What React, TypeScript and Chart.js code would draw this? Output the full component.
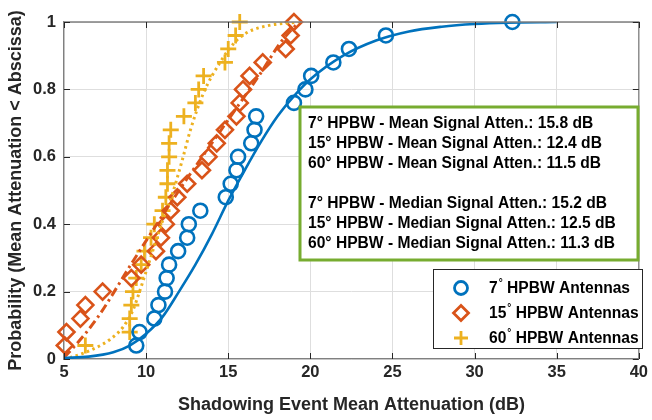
import React, { useEffect, useRef } from 'react';
import { Chart, registerables } from 'chart.js';

Chart.register(...registerables);

// ---------- data ----------
const probLevels = [0.04, 0.08, 0.12, 0.16, 0.2, 0.24, 0.28, 0.32, 0.36, 0.4, 0.44, 0.48, 0.52, 0.56, 0.6, 0.64, 0.68, 0.72, 0.76, 0.8, 0.84, 0.88, 0.92, 0.96, 1.0];

const atten7 = [9.4, 9.6, 10.5, 10.75, 11.15, 11.25, 11.4, 11.95, 12.5, 12.6, 13.3, 14.85, 15.15, 15.5, 15.6, 16.4, 16.6, 16.7, 19.0, 19.7, 20.05, 21.4, 22.35, 24.6, 32.3];
const atten15 = [5.05, 5.15, 6.0, 6.3, 7.35, 9.1, 9.7, 10.6, 10.9, 11.2, 11.5, 11.9, 12.5, 13.4, 13.8, 14.3, 14.8, 15.5, 15.7, 15.9, 16.3, 17.1, 18.5, 18.8, 19.0];
const atten60 = [6.3, 9.0, 9.0, 9.1, 9.2, 9.4, 9.7, 9.9, 10.3, 10.5, 11.0, 11.2, 11.3, 11.3, 11.4, 11.4, 11.5, 12.3, 13.0, 13.2, 13.5, 14.8, 15.0, 15.45, 15.7];

const fit7X = [5, 6.5, 8, 9, 10, 11, 12, 13, 14, 15, 16, 17, 18, 19, 20, 22, 24, 26, 28, 30, 32, 35];
const fit7P = [0.003, 0.007, 0.02, 0.04, 0.075, 0.125, 0.2, 0.28, 0.37, 0.47, 0.56, 0.645, 0.72, 0.78, 0.83, 0.9, 0.945, 0.972, 0.986, 0.994, 0.998, 1.0];

const fit15X = [5, 5.5, 7, 9.2, 12, 15, 17, 18.2, 19.3];
const fit15P = [0.005, 0.03, 0.12, 0.29, 0.5, 0.71, 0.85, 0.94, 1.0];

const fit60X = [5, 5.5, 6.8, 7.8, 8.6, 9.2, 9.6, 10.2, 11, 11.6, 12.2, 12.7, 13.5, 14.5, 15.4, 16.2, 17.5, 19.3];
const fit60P = [0.0, 0.006, 0.03, 0.058, 0.095, 0.145, 0.2, 0.29, 0.41, 0.49, 0.59, 0.68, 0.79, 0.88, 0.94, 0.97, 0.99, 1.0];

const xTicks = [5, 10, 15, 20, 25, 30, 35, 40];
const yTicks = [0, 0.2, 0.4, 0.6, 0.8, 1];

const beamwidths = ['7', '15', '60'];
const statLines = [
  '7° HPBW - Mean Signal Atten.: 15.8 dB',
  '15° HPBW - Mean Signal Atten.: 12.4 dB',
  '60° HPBW - Mean Signal Atten.: 11.5 dB',
  '',
  '7° HPBW - Median Signal Atten.: 15.2 dB',
  '15° HPBW - Median Signal Atten.: 12.5 dB',
  '60° HPBW - Median Signal Atten.: 11.3 dB',
];

const xTitle = 'Shadowing Event Mean Attenuation (dB)';
const yTitle = 'Probability (Mean Attenuation < Abscissa)';

// ---------- styles ----------
const BLUE = '#0072BD';
const ORANGE = '#D95319';
const YELLOW = '#EDB120';
const GREEN = '#77AC30';
const FONT = "'Liberation Sans', Arial, Helvetica, sans-serif";
const TEXT = '#262626';

const zip = (xs: number[], ys: number[]) => xs.map((v, i) => ({ x: v, y: ys[i] }));

const overlayPlugin = {
  id: 'overlay',
  afterDraw(chart: any) {
    const { ctx, chartArea: a, scales } = chart;
    const xs = scales.x;
    const ys = scales.y;
    ctx.save();
    // top / right border
    ctx.strokeStyle = '#808080';
    ctx.lineWidth = 1.3;
    ctx.beginPath();
    ctx.moveTo(a.left, a.top);
    ctx.lineTo(a.right, a.top);
    ctx.lineTo(a.right, a.bottom);
    ctx.stroke();
    // inward ticks
    ctx.strokeStyle = TEXT;
    ctx.lineWidth = 1;
    ctx.beginPath();
    xTicks.forEach((v) => {
      const px = Math.round(xs.getPixelForValue(v)) + 0.5;
      ctx.moveTo(px, a.bottom);
      ctx.lineTo(px, a.bottom - 6);
      ctx.moveTo(px, a.top);
      ctx.lineTo(px, a.top + 6);
    });
    yTicks.forEach((v) => {
      const py = Math.round(ys.getPixelForValue(v)) + 0.5;
      ctx.moveTo(a.left, py);
      ctx.lineTo(a.left + 6, py);
      ctx.moveTo(a.right, py);
      ctx.lineTo(a.right - 6, py);
    });
    ctx.stroke();

    // stats text box
    const bx = 300, by = 107, bw = 338, bh = 153;
    ctx.fillStyle = '#ffffff';
    ctx.fillRect(bx, by, bw, bh);
    ctx.strokeStyle = GREEN;
    ctx.lineWidth = 3;
    ctx.strokeRect(bx, by, bw, bh);
    ctx.fillStyle = '#000000';
    ctx.font = `bold 15.6px ${FONT}`;
    ctx.textBaseline = 'middle';
    ctx.textAlign = 'left';
    statLines.forEach((line, i) => {
      if (line) ctx.fillText(line, 308, 123.5 + i * 20);
    });

    // legend
    const lx = 433, ly = 269, lw = 210, lh = 80;
    ctx.fillStyle = '#ffffff';
    ctx.fillRect(lx, ly, lw, lh);
    ctx.strokeStyle = TEXT;
    ctx.lineWidth = 1;
    ctx.strokeRect(lx + 0.5, ly + 0.5, lw - 1, lh - 1);
    const colors = [BLUE, ORANGE, YELLOW];
    beamwidths.forEach((bwLabel, i) => {
      const cy = 288 + i * 25;
      const mx = 461;
      ctx.strokeStyle = colors[i];
      ctx.lineWidth = 2.8;
      ctx.beginPath();
      if (i === 0) {
        ctx.arc(mx, cy, 6.5, 0, Math.PI * 2);
      } else if (i === 1) {
        ctx.moveTo(mx - 7.5, cy);
        ctx.lineTo(mx, cy - 7.5);
        ctx.lineTo(mx + 7.5, cy);
        ctx.lineTo(mx, cy + 7.5);
        ctx.closePath();
      } else {
        ctx.moveTo(mx - 7, cy);
        ctx.lineTo(mx + 7, cy);
        ctx.moveTo(mx, cy - 7);
        ctx.lineTo(mx, cy + 7);
      }
      ctx.stroke();
      ctx.fillStyle = '#000000';
      ctx.font = `bold 15.6px ${FONT}`;
      ctx.textBaseline = 'middle';
      let tx = 489;
      ctx.fillText(bwLabel, tx, cy + 1);
      tx += ctx.measureText(bwLabel).width + 1;
      ctx.font = `bold 10px ${FONT}`;
      ctx.fillText('°', tx, cy - 5);
      tx += ctx.measureText('°').width;
      ctx.font = `bold 15.6px ${FONT}`;
      ctx.fillText(' HPBW Antennas', tx, cy + 1);
    });
    ctx.restore();
  },
};

export default function App() {
  const ref = useRef<HTMLCanvasElement>(null);
  useEffect(() => {
    if (!ref.current) return;
    Chart.defaults.font.family = FONT;
    const chart = new Chart(ref.current, {
      type: 'scatter',
      data: {
        datasets: [
          {
            label: 'fit7',
            data: zip(fit7X, fit7P),
            showLine: true,
            borderColor: BLUE,
            borderWidth: 2.6,
            pointRadius: 0,
            cubicInterpolationMode: 'monotone',
          },
          {
            label: 'fit15',
            data: zip(fit15X, fit15P),
            showLine: true,
            borderColor: ORANGE,
            borderWidth: 3,
            borderDash: [9, 4, 2.5, 4],
            pointRadius: 0,
            cubicInterpolationMode: 'monotone',
          },
          {
            label: 'fit60',
            data: zip(fit60X, fit60P),
            showLine: true,
            borderColor: YELLOW,
            borderWidth: 3,
            borderDash: [2.5, 3.5],
            pointRadius: 0,
            cubicInterpolationMode: 'monotone',
          },
          {
            label: '7° HPBW Antennas',
            data: zip(atten7, probLevels),
            pointStyle: 'circle',
            pointRadius: 7,
            borderWidth: 2.6,
            borderColor: BLUE,
            backgroundColor: 'rgba(0,0,0,0)',
            clip: false,
          },
          {
            label: '15° HPBW Antennas',
            data: zip(atten15, probLevels),
            pointStyle: 'rectRot',
            pointRadius: 8,
            borderWidth: 2.6,
            borderColor: ORANGE,
            backgroundColor: 'rgba(0,0,0,0)',
            clip: false,
          },
          {
            label: '60° HPBW Antennas',
            data: zip(atten60, probLevels),
            pointStyle: 'cross',
            pointRadius: 8,
            borderWidth: 2.8,
            borderColor: YELLOW,
            backgroundColor: 'rgba(0,0,0,0)',
            clip: false,
          },
        ],
      } as any,
      options: {
        animation: false,
        responsive: false,
        devicePixelRatio: 1,
        layout: { padding: { top: 22, right: 9, left: 0, bottom: 0 } },
        plugins: {
          legend: { display: false },
          tooltip: { enabled: false },
        },
        scales: {
          x: {
            type: 'linear',
            min: 5,
            max: 40,
            afterFit: (s: any) => { s.height = 61; },
            afterBuildTicks: (s: any) => { s.ticks = xTicks.map((v) => ({ value: v })); },
            ticks: {
              color: TEXT,
              font: { size: 16.5, weight: 'bold', family: FONT },
              padding: 4,
              maxRotation: 0,
              callback: (v: any) => String(v),
            },
            grid: { color: '#dedede', lineWidth: 1, drawTicks: false },
            border: { display: true, color: '#808080', width: 1.3 },
            title: {
              display: true,
              text: xTitle,
              color: TEXT,
              font: { size: 18, weight: 'bold', family: FONT },
              padding: { top: 0, bottom: 4 },
            },
          },
          y: {
            type: 'linear',
            min: 0,
            max: 1,
            afterFit: (s: any) => { s.width = 64; },
            afterBuildTicks: (s: any) => { s.ticks = yTicks.map((v) => ({ value: v })); },
            ticks: {
              color: TEXT,
              font: { size: 16.5, weight: 'bold', family: FONT },
              padding: 8,
              callback: (v: any) => String(Number(Number(v).toFixed(1))),
            },
            grid: { color: '#dedede', lineWidth: 1, drawTicks: false },
            border: { display: true, color: '#808080', width: 1.3 },
            title: {
              display: true,
              text: yTitle,
              color: TEXT,
              font: { size: 18, weight: 'bold', family: FONT },
              padding: { top: 5, bottom: 0 },
            },
          },
        },
      } as any,
      plugins: [overlayPlugin],
    });
    return () => chart.destroy();
  }, []);
  return (
    <div style={{ position: 'fixed', left: 0, top: 0, width: 652, height: 420, background: '#ffffff' }}>
      <canvas ref={ref} width={652} height={420} style={{ display: 'block' }} />
    </div>
  );
}
